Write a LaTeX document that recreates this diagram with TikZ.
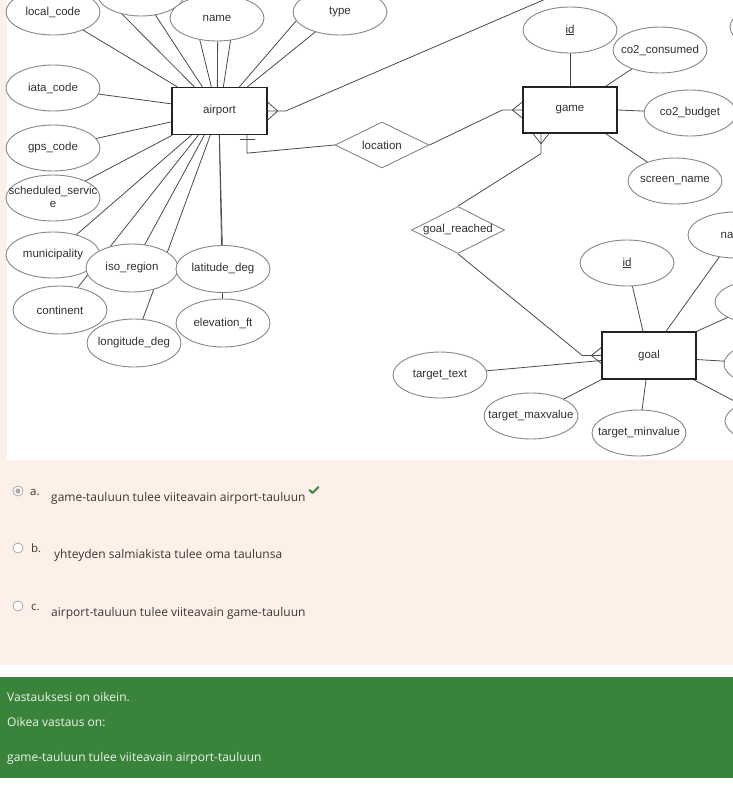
\documentclass[tikz,border=0pt]{standalone}
\usepackage{fontspec}
\setmainfont{Open Sans}
\newfontfamily\diagfont{Liberation Sans}
\usetikzlibrary{shapes.geometric,calc}
\pgfdeclarelayer{bg}
\pgfdeclarelayer{lines}
\pgfsetlayers{bg,lines,main}
\definecolor{peach}{RGB}{253,240,233}
\definecolor{okgreen}{RGB}{58,131,58}
\definecolor{linec}{RGB}{75,75,75}
\definecolor{ellc}{RGB}{135,135,135}
\definecolor{boxc}{RGB}{35,35,35}
\definecolor{txtc}{RGB}{50,50,50}
\definecolor{quiztxt}{RGB}{60,55,50}
\definecolor{ansc}{RGB}{236,244,236}
\definecolor{radioc}{RGB}{170,170,170}
\newcommand{\dfont}{\diagfont\fontsize{11.5}{13}\selectfont}
\newcommand{\zw}[1]{\makebox[0pt][c]{#1}}
\begin{document}
\begin{tikzpicture}[x=1pt,y=-1pt,
 attr/.style={ellipse,draw=ellc,line width=0.9pt,fill=white,minimum width=94pt,minimum height=46pt,inner sep=0pt,font=\dfont,text=txtc},
 entity/.style={rectangle,draw=boxc,line width=1.3pt,fill=white,minimum width=95pt,minimum height=47pt,inner sep=0pt,font=\dfont,text=txtc},
 rel/.style={diamond,aspect=2,draw=ellc,line width=0.9pt,fill=white,minimum width=94pt,minimum height=46pt,inner sep=0pt,font=\dfont,text=txtc},
 conn/.style={draw=linec,line width=0.8pt},
 qtext/.style={font=\fontsize{12}{14}\selectfont,text=quiztxt,anchor=base west,inner sep=0pt},
 qlabel/.style={font=\fontsize{11.5}{14}\selectfont,text=quiztxt,anchor=base west,inner sep=0pt},
 atext/.style={font=\fontsize{12}{14}\selectfont,text=ansc,anchor=base west,inner sep=0pt},
 radio/.style={circle,draw=radioc,fill=white,minimum size=10pt,inner sep=0pt,line width=0.8pt},
]
\useasboundingbox (0,0) rectangle (733,790);
\begin{pgfonlayer}{bg}
\fill[white] (0,0) rectangle (733,790);
\fill[peach] (0,0) rectangle (733,665);
\fill[white] (7,0) rectangle (733,460);
\fill[okgreen] (0,677) rectangle (733,778);
\end{pgfonlayer}

% entities and relationships
\node[entity] (airport) at (219.5,111) {airport};
\node[entity,minimum width=94pt,minimum height=46pt] (game) at (570,110) {game};
\node[entity,minimum width=94pt] (goal) at (649,355.5) {goal};
\node[rel] (location) at (382,145) {\zw{location}};
\node[rel,minimum width=93pt,minimum height=47pt] (goalreached) at (458,230) {\zw{goal\_reached}};

% airport attributes
\node[attr,minimum width=88pt] (hidtop) at (141,-7) {};
\node[attr] (localcode) at (53,12) {\zw{local\_code}};
\node[attr] (name) at (217,18) {\zw{name}};
\node[attr] (type) at (340,12) {\zw{type}};
\node[attr] (iata) at (53,88) {\zw{iata\_code}};
\node[attr] (gps) at (53,148) {\zw{gps\_code}};
\node[attr] (sched) at (53,198) {\zw{\begin{tabular}{@{}c@{}}scheduled\_servic\\e\end{tabular}}};
\node[attr] (munic) at (53,255) {\zw{municipality}};
\node[attr,minimum height=48pt] (continent) at (60,310) {\zw{continent}};
\node[attr,minimum width=92pt,minimum height=48pt] (isoregion) at (132,268) {\zw{iso\_region}};
\node[attr,minimum height=48pt] (longitude) at (134,343) {\zw{longitude\_deg}};
\node[attr,minimum height=47pt] (latitude) at (223,269) {\zw{latitude\_deg}};
\node[attr,minimum height=48pt] (elevation) at (223,323) {\zw{elevation\_ft}};
\node[attr] (topright) at (777,27) {};

% game attributes
\node[attr] (gid) at (570,30) {\zw{\underline{id}}};
\node[attr] (co2c) at (660,50) {\zw{co2\_consumed}};
\node[attr,minimum width=92pt] (co2b) at (690,113) {\zw{co2\_budget}};
\node[attr] (screen) at (675,181) {\zw{screen\_name}};

% goal attributes
\node[attr] (goalid) at (627,263) {\zw{\underline{id}}};
\node[attr] (goalname) at (735,235) {\zw{name}};
\node[attr,minimum height=44pt] (ge2) at (762,302) {};
\node[attr,minimum height=44pt] (ge3) at (771,364) {};
\node[attr,minimum height=44pt] (ge4) at (772,421) {};
\node[attr] (targettext) at (440,375) {\zw{target\_text}};
\node[attr] (targetmax) at (531,416) {\zw{target\_maxvalue}};
\node[attr] (targetmin) at (639,433) {\zw{target\_minvalue}};

% far ends of lines leaving the picture
\coordinate (farA) at (101,-7);
\coordinate (farB) at (188,-8);
\coordinate (farC) at (218,-8);
\coordinate (farD) at (238,-8);
\coordinate (farE) at (321,-8);
\coordinate (topexit) at (599,-24);

\begin{pgfonlayer}{lines}
% airport attribute connectors
\draw[conn] ($(airport.north west)+(6,0)$) -- (localcode.center);
\draw[conn] ($(airport.north west)+(23,0)$) -- (farA);
\draw[conn] ($(airport.north west)+(31,0)$) -- (hidtop.center);
\draw[conn] ($(airport.north west)+(40,0)$) -- (farB);
\draw[conn] ($(airport.north west)+(46,0)$) -- (farC);
\draw[conn] ($(airport.north west)+(52,0)$) -- (farD);
\draw[conn] ($(airport.north west)+(68,0)$) -- (farE);
\draw[conn] ($(airport.north west)+(76,0)$) -- (type.center);
\draw[conn] ($(airport.north west)+(0,17)$) -- (iata.center);
\draw[conn] ($(airport.north west)+(0,35)$) -- (gps.center);
\draw[conn] ($(airport.south west)+(1,0)$) -- (sched.center);
\draw[conn] ($(airport.south west)+(20,0)$) -- (munic.center);
\draw[conn] ($(airport.south west)+(27,0)$) -- (continent.center);
\draw[conn] ($(airport.south west)+(33,0)$) -- (isoregion.center);
\draw[conn] ($(airport.south west)+(39,0)$) -- (longitude.center);
\draw[conn] ($(airport.south west)+(48,0)$) -- (latitude.center);
\draw[conn] ($(airport.south west)+(48,0)$) -- (elevation.center);

% airport -- (upper entity), crow's foot
\draw[conn] ($(airport.east)+(10,0)$) -- ($(airport.east)+(0,-9)$);
\draw[conn] ($(airport.east)+(10,0)$) -- ($(airport.east)+(0,9)$);
\draw[conn] (airport.east) -- ($(airport.east)+(18,0)$) -- (topexit);

% airport -- location -- game
\draw[conn] ($(airport.south)+(20,4)$) -- ($(airport.south)+(35,4)$);
\draw[conn] ($(airport.south)+(27.5,0)$) -- ($(airport.south)+(27.5,18)$) -- (location.west);
\draw[conn] (location.east) -- ($(game.west)+(-20,0)$) -- (game.west);
\draw[conn] ($(game.west)+(-10,0)$) -- ($(game.west)+(0,-8)$);
\draw[conn] ($(game.west)+(-10,0)$) -- ($(game.west)+(0,8)$);

% game -- goal_reached -- goal
\draw[conn] ($(game.south)+(-29,10)$) -- ($(game.south)+(-37,0)$);
\draw[conn] ($(game.south)+(-29,10)$) -- ($(game.south)+(-21,0)$);
\draw[conn] ($(game.south)+(-29,0)$) -- ($(game.south)+(-29,20)$) -- (goalreached.north);
\draw[conn] (goalreached.south) -- ($(goal.west)+(-19,0)$) -- (goal.west);
\draw[conn] ($(goal.west)+(-10,0)$) -- ($(goal.west)+(0,-8)$);
\draw[conn] ($(goal.west)+(-10,0)$) -- ($(goal.west)+(0,8)$);

% game attribute connectors
\draw[conn] (game.north) -- (gid.center);
\draw[conn] ($(game.north east)+(-12,0)$) -- (co2c.center);
\draw[conn] (game.east) -- (co2b.center);
\draw[conn] ($(game.south east)+(-12,0)$) -- (screen.center);

% goal attribute connectors
\draw[conn] ($(goal.north)+(-6,0)$) -- (goalid.center);
\draw[conn] ($(goal.north)+(17,0)$) -- (goalname.center);
\draw[conn] (goal.north east) -- (ge2.center);
\draw[conn] ($(goal.east)+(0,4)$) -- (ge3.center);
\draw[conn] ($(goal.south east)+(-3,0)$) -- (ge4.center);
\draw[conn] ($(goal.west)+(0,5)$) -- (targettext.center);
\draw[conn] (goal.south west) -- (targetmax.center);
\draw[conn] ($(goal.south)+(-3,0)$) -- (targetmin.center);
\end{pgfonlayer}

% quiz answers
\node[radio] (ra) at (18,491) {};
\fill[radioc] (ra.center) circle (2.6pt);
\node[qlabel] (la) at (30,495.5) {a.};
\node[qtext] (ta) at (51,501) {game-tauluun tulee viiteavain airport-tauluun};
\draw[okgreen,line width=1.8pt,line cap=round,line join=round] (309.5,490) -- (312.5,493) -- (318.5,487);

\node[radio] (rb) at (18,548) {};
\node[qlabel] (lb) at (31,552.5) {b.};
\node[qtext] (tb) at (54,558) {yhteyden salmiakista tulee oma taulunsa};

\node[radio] (rc) at (18,606) {};
\node[qlabel] (lc) at (31,610.5) {c.};
\node[qtext] (tc) at (51,616) {airport-tauluun tulee viiteavain game-tauluun};

% feedback
\node[atext] (f1) at (7,701) {Vastauksesi on oikein.};
\node[atext] (f2) at (7,726) {Oikea vastaus on:};
\node[atext] (f3) at (7,761) {game-tauluun tulee viiteavain airport-tauluun};
\end{tikzpicture}
\end{document}
